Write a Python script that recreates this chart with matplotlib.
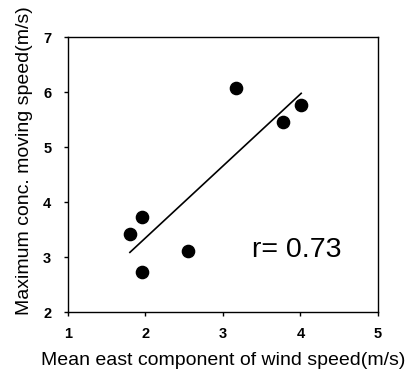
import numpy as np
import matplotlib
matplotlib.use("Agg")
import matplotlib.pyplot as plt

# east component of wind speed (m/s) vs maximum conc. moving speed (m/s)
wind_east = [1.80, 1.96, 1.96, 2.55, 3.17, 3.78, 4.01]
move_speed = [3.41, 3.72, 2.73, 3.11, 6.08, 5.46, 5.76]
r_label = "r= 0.73"

x_ticks = [1, 2, 3, 4, 5]
y_ticks = [2, 3, 4, 5, 6, 7]

plt.rcParams["font.family"] = ["Liberation Sans", "DejaVu Sans"]

fig = plt.figure(figsize=(4.09, 3.71), dpi=100)
ax = fig.add_axes([0.166, 0.159, 0.758, 0.741])

ax.plot(wind_east, move_speed, "o", color="black", markersize=8.8)

# least squares line over the data range
slope, icpt = np.polyfit(wind_east, move_speed, 1)
xs = np.array([min(wind_east), max(wind_east)])
ax.plot(xs, slope * xs + icpt, "-", color="black", linewidth=1.2)

ax.text(3.38, 3.12, r_label, fontsize=20.5, va="center", ha="left")

ax.set_xlim(1, 5)
ax.set_ylim(2, 7)
ax.set_xticks(x_ticks)
ax.set_yticks(y_ticks)
ax.tick_params(direction="out", length=3, width=1, labelsize=10.5)
ax.tick_params(axis="x", pad=8)
ax.tick_params(axis="y", pad=9)
for lbl in ax.get_xticklabels() + ax.get_yticklabels():
    lbl.set_fontweight("bold")
for s in ax.spines.values():
    s.set_linewidth(1)

ax.set_xlabel("Mean east component of wind speed(m/s)", fontsize=14, labelpad=8)
fig.text(0.059, 0.566, "Maximum conc. moving speed(m/s)", rotation=90,
         fontsize=14, ha="center", va="center")

fig.savefig("out.png", dpi=100)
